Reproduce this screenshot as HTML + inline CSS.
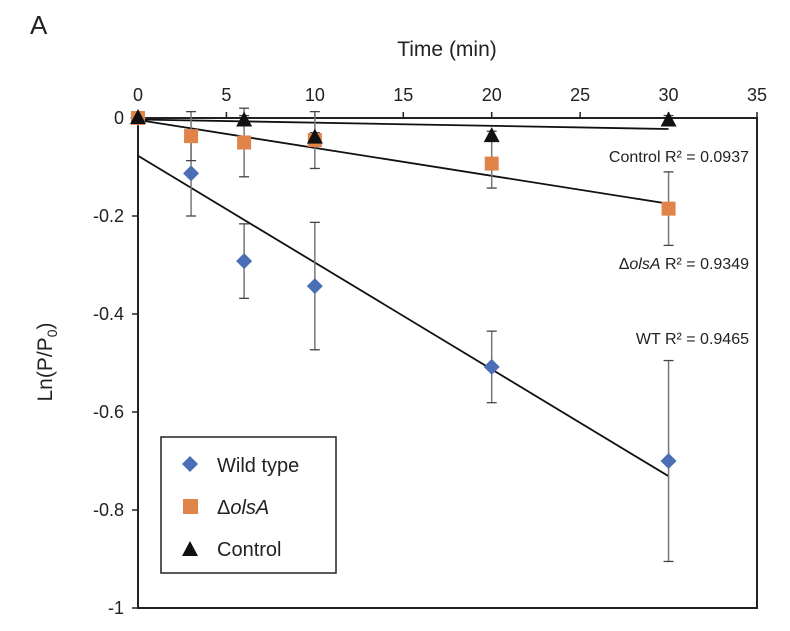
<!DOCTYPE html>
<html><head><meta charset="utf-8"><style>
body{margin:0;background:#fff;}
svg text{font-family:"Liberation Sans",Arial,sans-serif;fill:#222;}
</style></head><body>
<svg id="c" width="790" height="626" viewBox="0 0 790 626">
<text x="30" y="34" font-size="26">A</text>
<text x="447" y="56" font-size="21" text-anchor="middle">Time (min)</text>
<text transform="translate(52,362) rotate(-90)" font-size="21" text-anchor="middle">Ln(P/P<tspan font-size="14" dy="5">0</tspan><tspan dy="-5">)</tspan></text>
<g id="axes"></g><g id="marks"></g>
<g>
<rect x="161" y="437" width="175" height="136" fill="#fff" stroke="#222" stroke-width="1.5"/>
<path d="M190 456 L198 464 L190 472 L182 464Z" fill="#4a6fb5"/>
<text x="217" y="472" font-size="20">Wild type</text>
<rect x="183" y="499" width="15" height="15" fill="#e08449"/>
<text x="217" y="514" font-size="20">Δ<tspan font-style="italic">olsA</tspan></text>
<path d="M190 541 L198 556 L182 556Z" fill="#111"/>
<text x="217" y="556" font-size="20">Control</text>
</g>
<text x="749" y="162" font-size="16" text-anchor="end">Control R² = 0.0937</text>
<text x="749" y="269" font-size="16" text-anchor="end">Δ<tspan font-style="italic">olsA</tspan> R² = 0.9349</text>
<text x="749" y="344" font-size="16" text-anchor="end">WT R² = 0.9465</text>
</svg>
<script>
const xTicks=[0,5,10,15,20,25,30,35];
const yTicks=[0,-0.2,-0.4,-0.6,-0.8,-1];
const yTickLabels=["0","-0.2","-0.4","-0.6","-0.8","-1"];
const times=[0,3,6,10,20,30];
const wtValues=[0,-0.113,-0.292,-0.343,-0.508,-0.700];
const wtErrors=[0,0.087,0.076,0.13,0.073,0.205];
const olsaValues=[0,-0.037,-0.05,-0.045,-0.093,-0.185];
const olsaErrors=[0,0.05,0.07,0.058,0.05,0.075];
const ctrlTimes=[0,6,10,20,30];
const ctrlValues=[0,-0.005,-0.04,-0.037,-0.005];
const ctrlErrors=[0,0.01,0.01,0.01,0.01];
const wtFit=[-0.077,-0.0218];
const olsaFit=[-0.004,-0.0057];
const ctrlFit=[-0.003,-0.00065];
const X=v=>138+v*(757-138)/35, Y=v=>118-v*490;
const NS="http://www.w3.org/2000/svg";
function mk(t,a,p){const e=document.createElementNS(NS,t);for(const k in a)e.setAttribute(k,a[k]);p.appendChild(e);return e;}
const ax=document.getElementById('axes'), mg=document.getElementById('marks');
let e=mk('rect',{x:X(0),y:Y(0),width:X(35)-X(0),height:Y(-1)-Y(0),fill:'none',stroke:'#222','stroke-width':2},ax);

xTicks.forEach(t=>{mk('line',{x1:X(t),x2:X(t),y1:Y(0)-6,y2:Y(0),stroke:'#222','stroke-width':1.5},ax);
 const tx=mk('text',{x:X(t),y:101,'font-size':18,'text-anchor':'middle'},ax);tx.textContent=t;
 });
yTicks.forEach((t,i)=>{mk('line',{x1:X(0)-6,x2:X(0),y1:Y(t),y2:Y(t),stroke:'#222','stroke-width':1.5},ax);
 const tx=mk('text',{x:124,y:Y(t)+6,'font-size':18,'text-anchor':'end'},ax);tx.textContent=yTickLabels[i];
 });
function fit(f,n){const l=mk('line',{x1:X(0),y1:Y(f[0]),x2:X(30),y2:Y(f[0]+f[1]*30),stroke:'#111','stroke-width':1.8},mg);
 }
fit(wtFit,'wt-trendline');fit(olsaFit,'olsa-trendline');fit(ctrlFit,'control-trendline');
function errs(ts,vs,es){ts.forEach((t,i)=>{if(!es[i])return;const x=X(t),a=Y(vs[i]+es[i]),b=Y(vs[i]-es[i]);
 mk('line',{x1:x,x2:x,y1:a,y2:b,stroke:'#777','stroke-width':1.5},mg);
 mk('line',{x1:x-5,x2:x+5,y1:a,y2:a,stroke:'#444','stroke-width':1.3},mg);
 mk('line',{x1:x-5,x2:x+5,y1:b,y2:b,stroke:'#444','stroke-width':1.3},mg);});}
errs(times,wtValues,wtErrors);errs(times,olsaValues,olsaErrors);errs(ctrlTimes,ctrlValues,ctrlErrors);
times.forEach((t,i)=>{const x=X(t),y=Y(wtValues[i]);
 const p=mk('path',{d:`M${x} ${y-8}L${x+8} ${y}L${x} ${y+8}L${x-8} ${y}Z`,fill:'#4a6fb5'},mg);
 });
times.forEach((t,i)=>{const x=X(t),y=Y(olsaValues[i]);
 const p=mk('rect',{x:x-7,y:y-7,width:14,height:14,fill:'#e08449'},mg);
 });
ctrlTimes.forEach((t,i)=>{const x=X(t),y=Y(ctrlValues[i]);
 const p=mk('path',{d:`M${x} ${y-9}L${x+8} ${y+6}L${x-8} ${y+6}Z`,fill:'#111'},mg);
 });
</script>
</body></html>
